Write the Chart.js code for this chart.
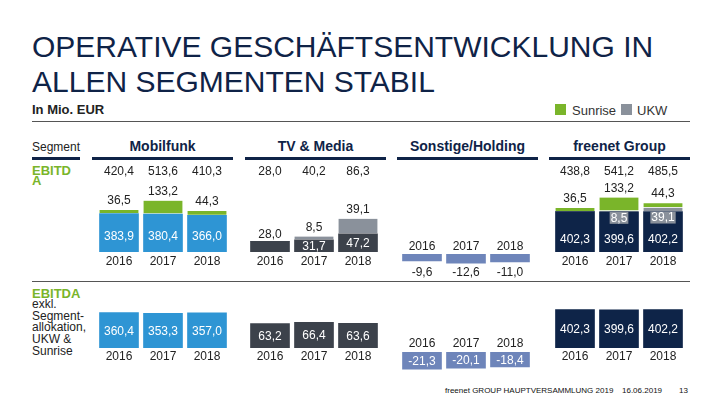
<!DOCTYPE html>
<html lang="de">
<head>
<meta charset="utf-8">
<title>Operative Geschäftsentwicklung</title>
<script src="https://cdn.jsdelivr.net/npm/chart.js@4.4.0/dist/chart.umd.min.js"></script>
<style>
  html, body { margin: 0; padding: 0; background: #fff; }
  body { width: 720px; height: 405px; position: relative; overflow: hidden;
         font-family: "Liberation Sans", Arial, sans-serif; color: #222; }
  .abs { position: absolute; white-space: nowrap; }
  .title { left: 32px; top: 29px; font-size: 30px; line-height: 35px; color: #0f2347; }
  .unit { left: 32px; top: 102px; font-size: 13px; line-height: 15px; font-weight: bold; color: #222; }
  .rule { position: absolute; left: 32px; width: 658px; height: 1px; background: #555; }
  .legend { top: 103px; font-size: 13px; line-height: 15px; color: #333; }
  .swatch { position: absolute; top: 104px; width: 11px; height: 11px; }
  .seg { left: 32px; top: 140px; font-size: 12px; line-height: 14px; }
  .head { top: 138px; font-size: 14px; line-height: 16px; font-weight: bold; color: #0f2347; text-align: center; }
  .bar-line { position: absolute; top: 157px; height: 3px; background: #0f2347; }
  .green { color: #7ab52a; font-weight: bold; font-size: 13px; }
  .side { left: 32px; top: 343px; font-size: 12px; line-height: 11.7px; }
  .foot { top: 386px; font-size: 8px; line-height: 10px; color: #111; }
  canvas { position: absolute; }
</style>
</head>
<body>
<div class="abs title">OPERATIVE GESCHÄFTSENTWICKLUNG IN<br>ALLEN SEGMENTEN STABIL</div>
<div class="abs unit">In Mio. EUR</div>
<div class="swatch" style="left:555px;background:#7ab52a"></div>
<div class="abs legend" style="left:572px">Sunrise</div>
<div class="swatch" style="left:621px;background:#8a919b"></div>
<div class="abs legend" style="left:637px">UKW</div>
<div class="rule" style="top:121px"></div>

<div class="abs seg">Segment</div>
<div class="bar-line" style="left:32px;width:48px"></div>
<div class="abs head" style="left:92px;width:141px">Mobilfunk</div>
<div class="bar-line" style="left:92px;width:141px"></div>
<div class="abs head" style="left:245px;width:141px">TV &amp; Media</div>
<div class="bar-line" style="left:245px;width:141px"></div>
<div class="abs head" style="left:397px;width:141px">Sonstige/Holding</div>
<div class="bar-line" style="left:397px;width:141px"></div>
<div class="abs head" style="left:549px;width:141px">freenet Group</div>
<div class="bar-line" style="left:549px;width:141px"></div>

<div class="abs green" style="left:32px;top:166px;width:44px;white-space:normal;word-break:break-all;line-height:9.6px">EBITDA</div>

<div class="rule" style="top:281px"></div>
<div class="abs green" style="left:32px;top:286px;line-height:15px">EBITDA</div>
<div class="abs side" style="top:299px">exkl.<br>Segment-<br>allokation,<br>UKW &amp;<br>Sunrise</div>

<canvas id="mobilTop" width="132" height="120" style="left:97px;top:160px"></canvas>
<canvas id="tvTop" width="132" height="120" style="left:248px;top:160px"></canvas>
<canvas id="holdTop" width="132" height="52" style="left:400px;top:228px"></canvas>
<canvas id="groupTop" width="132" height="120" style="left:553px;top:160px"></canvas>

<canvas id="mobilBottom" width="132" height="85" style="left:97px;top:290px"></canvas>
<canvas id="tvBottom" width="132" height="85" style="left:248px;top:290px"></canvas>
<canvas id="holdBottom" width="132" height="45" style="left:400px;top:330px"></canvas>
<canvas id="groupBottom" width="132" height="85" style="left:553px;top:290px"></canvas>

<div class="abs foot" style="left:445px">freenet GROUP HAUPTVERSAMMLUNG 2019</div>
<div class="abs foot" style="left:622px">16.06.2019</div>
<div class="abs foot" style="left:679px">13</div>

<script>
const years = ['2016', '2017', '2018'];

// EBITDA je Segment
const mobilBase = [383.9, 380.4, 366.0];
const mobilSunrise = [36.5, 133.2, 44.3];
const mobilTotal = [420.4, 513.6, 410.3];
const tvBase = [28.0, 31.7, 47.2];
const tvUkw = [0, 8.5, 39.1];
const tvTotal = [28.0, 40.2, 86.3];
const holding = [-9.6, -12.6, -11.0];
const groupBase = [402.3, 399.6, 402.2];
const groupUkw = [0, 8.5, 39.1];
const groupSunrise = [36.5, 133.2, 44.3];
const groupTotal = [438.8, 541.2, 485.5];

// EBITDA exkl. Segmentallokation, UKW & Sunrise
const mobilExkl = [360.4, 353.3, 357.0];
const tvExkl = [63.2, 66.4, 63.6];
const holdingExkl = [-21.3, -20.1, -18.4];
const groupExkl = [402.3, 399.6, 402.2];

const BLUE = '#2e95d4';
const GREEN = '#7ab52a';
const DARK = '#3c424b';
const GREY = '#8a919b';
const SLATE = '#6e85ba';
const NAVY = '#0e2448';
const INK = '#222';
const WHITE = '#fff';
const FONT = '"Liberation Sans", Arial, sans-serif';
const TOTAL_Y = 12; // row of totals, 172px on the page

const fmt = v => v.toFixed(1).replace('.', ',');

function put(ctx, str, x, y, color) {
  ctx.fillStyle = color;
  ctx.fillText(str, x, y);
}

function bars(data, color, onTop) {
  return {
    data: data,
    backgroundColor: color,
    barThickness: 39,
    borderColor: WHITE,
    borderWidth: onTop ? { top: 0, right: 0, bottom: 1, left: 0 } : 0,
    borderSkipped: onTop ? false : 'start',
  };
}

function panel(id, datasets, yMin, yMax, axis, draw) {
  return new Chart(document.getElementById(id), {
    type: 'bar',
    data: { labels: years, datasets: datasets },
    options: {
      responsive: false,
      animation: false,
      events: [],
      layout: { padding: 0 },
      plugins: { legend: { display: false }, tooltip: { enabled: false } },
      scales: {
        x: {
          stacked: true,
          position: axis.position,
          grid: { display: false, drawTicks: false },
          border: { display: false },
          ticks: { color: INK, font: { size: 12, family: FONT }, padding: axis.padding, maxRotation: 0, autoSkip: false },
          afterFit(scale) { scale.height = axis.height; },
        },
        y: { stacked: true, display: false, min: yMin, max: yMax },
      },
    },
    plugins: [{
      id: 'valueLabels',
      afterDatasetsDraw(chart) {
        const ctx = chart.ctx;
        ctx.save();
        ctx.font = '12px ' + FONT;
        ctx.textAlign = 'center';
        ctx.textBaseline = 'middle';
        draw(chart, ctx);
        ctx.restore();
      },
    }],
  });
}

function insideLabels(values) {
  return (chart, ctx) => {
    const el = chart.getDatasetMeta(0).data;
    values.forEach((v, j) => put(ctx, fmt(v), el[j].x, (el[j].y + el[j].base) / 2 + 1, WHITE));
  };
}

const topAxis = { position: 'bottom', padding: 2.5, height: 28 };
const bottomAxis = { position: 'bottom', padding: 1.5, height: 27 };

panel('mobilTop', [bars(mobilBase, BLUE), bars(mobilSunrise, GREEN, true)], 0, 920, topAxis, (chart, ctx) => {
  const base = chart.getDatasetMeta(0).data;
  const sun = chart.getDatasetMeta(1).data;
  years.forEach((_, j) => {
    put(ctx, fmt(mobilTotal[j]), base[j].x, TOTAL_Y, INK);
    put(ctx, fmt(mobilSunrise[j]), sun[j].x, sun[j].y - 9, INK);
    put(ctx, fmt(mobilBase[j]), base[j].x, base[j].base - 15, WHITE);
  });
});

panel('tvTop', [bars(tvBase, DARK), bars(tvUkw, GREY, true)], 0, 239, topAxis, (chart, ctx) => {
  const base = chart.getDatasetMeta(0).data;
  const ukw = chart.getDatasetMeta(1).data;
  years.forEach((_, j) => {
    put(ctx, fmt(tvTotal[j]), base[j].x, TOTAL_Y, INK);
    if (tvUkw[j] > 0) {
      put(ctx, fmt(tvUkw[j]), ukw[j].x, ukw[j].y - 9, INK);
      put(ctx, fmt(tvBase[j]), base[j].x, (base[j].y + base[j].base) / 2 + 1, WHITE);
    } else {
      put(ctx, fmt(tvBase[j]), base[j].x, base[j].y - 7, INK);
    }
  });
});

panel('holdTop', [bars(holding, SLATE)], -35.6, 0, { position: 'top', padding: 0, height: 26 }, (chart, ctx) => {
  const el = chart.getDatasetMeta(0).data;
  holding.forEach((v, j) => put(ctx, fmt(v), el[j].x, 45, INK));
});

panel('groupTop', [bars(groupBase, NAVY), bars(groupUkw, GREY, true), bars(groupSunrise, GREEN, true)], 0, 915, topAxis, (chart, ctx) => {
  const base = chart.getDatasetMeta(0).data;
  const sun = chart.getDatasetMeta(2).data;
  years.forEach((_, j) => {
    const x = base[j].x;
    put(ctx, fmt(groupTotal[j]), x, TOTAL_Y, INK);
    put(ctx, fmt(groupSunrise[j]), x, sun[j].y - 9, INK);
    if (groupUkw[j] > 0) {
      const s = fmt(groupUkw[j]);
      const w = ctx.measureText(s).width + 2;
      ctx.fillStyle = GREY;
      ctx.fillRect(x - w / 2, base[j].y, w, 12);
      put(ctx, s, x, base[j].y + 6.5, WHITE);
    }
    put(ctx, fmt(groupBase[j]), x, base[j].base - 12, WHITE);
  });
});

panel('mobilBottom', [bars(mobilExkl, BLUE)], 0, 590, bottomAxis, insideLabels(mobilExkl));
panel('tvBottom', [bars(tvExkl, DARK)], 0, 150, bottomAxis, insideLabels(tvExkl));
panel('holdBottom', [bars(holdingExkl, SLATE)], -28.4, 0, { position: 'top', padding: 1.5, height: 22 }, insideLabels(holdingExkl));
panel('groupBottom', [bars(groupExkl, NAVY)], 0, 607, bottomAxis, insideLabels(groupExkl));
</script>
</body>
</html>
